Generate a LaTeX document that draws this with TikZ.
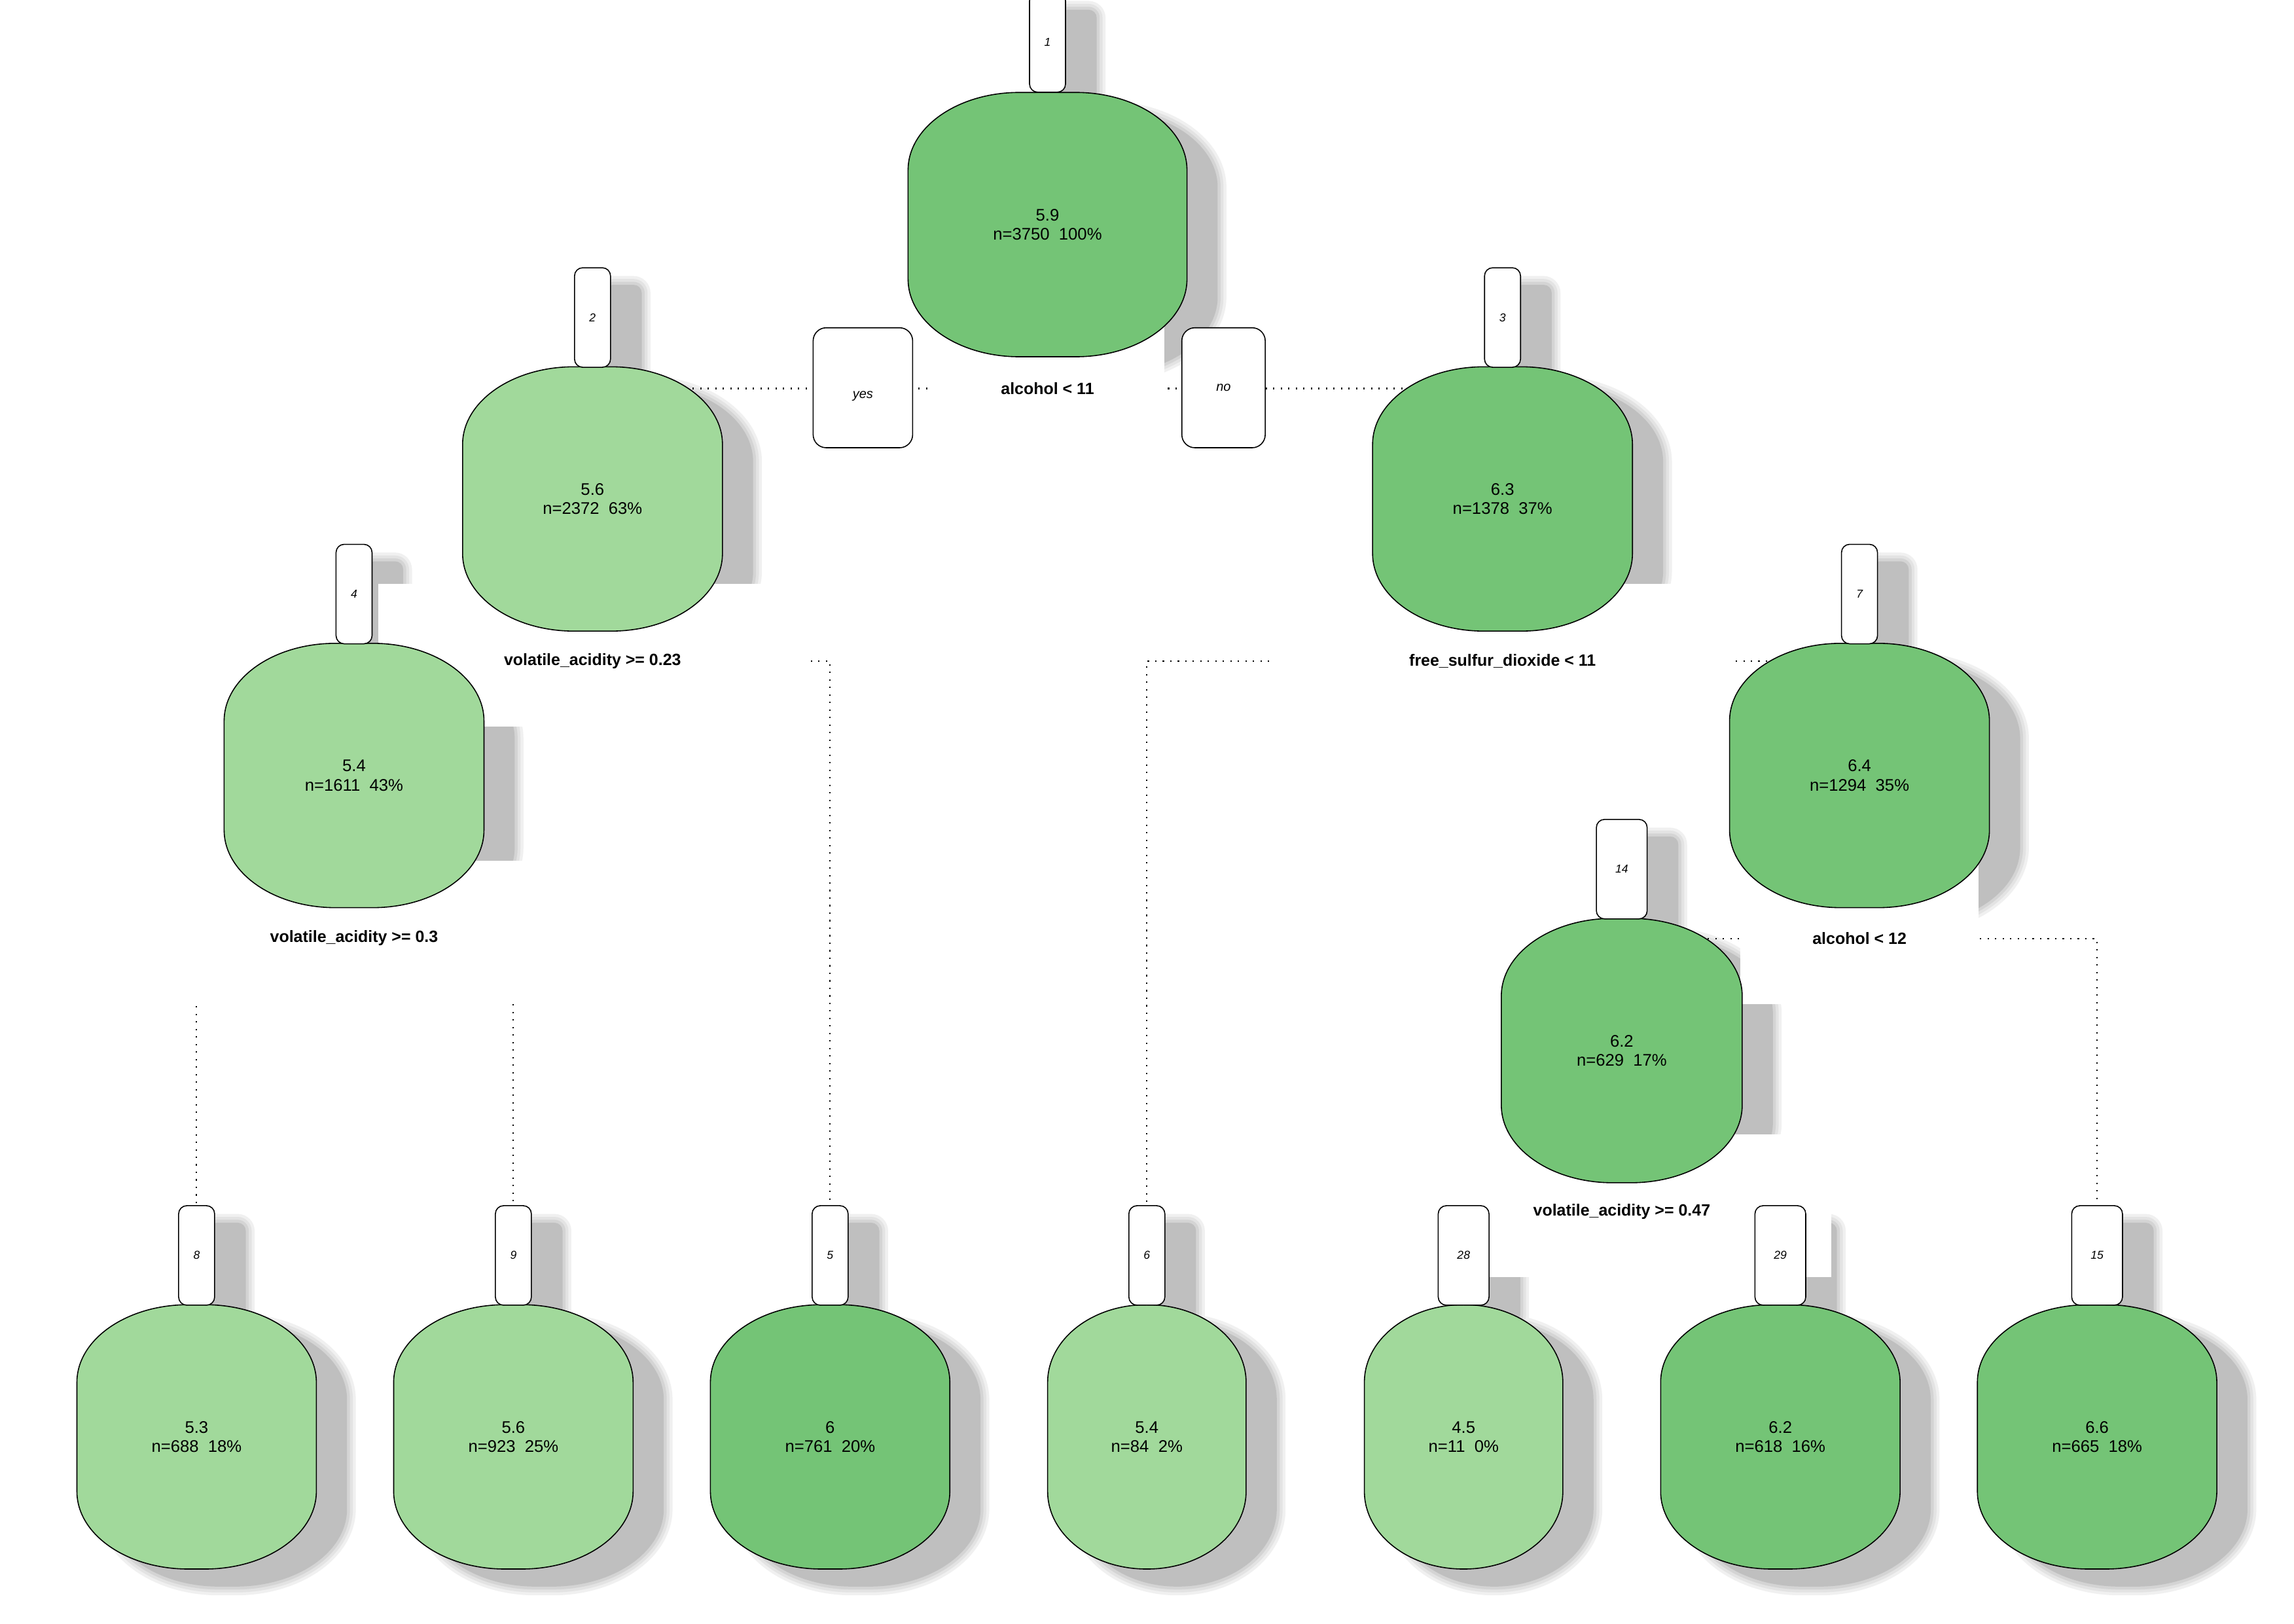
\documentclass[tikz,border=0pt]{standalone}
\usepackage{fontspec}
\setmainfont{Liberation Sans}
\definecolor{greendark}{HTML}{74C476}
\definecolor{greenlight}{HTML}{A1D99B}
\pgfdeclarelayer{paper}
\pgfdeclarelayer{shade}
\pgfdeclarelayer{lines}
\pgfdeclarelayer{cut}
\pgfdeclarelayer{body}
\pgfsetlayers{paper,shade,lines,cut,body,main}
% outline of a box with elliptic corners round node #1 (rx #2, ry #3, grown by #4)
\newcommand{\ovalpath}[4]{([xshift=-#4, yshift=-#3]#1.north west)
  arc[start angle=180, end angle=90, x radius=#2+#4, y radius=#3+#4]
  -- ([xshift=-#2, yshift=#4]#1.north east)
  arc[start angle=90, end angle=0, x radius=#2+#4, y radius=#3+#4]
  -- ([xshift=#4, yshift=#3]#1.south east)
  arc[start angle=0, end angle=-90, x radius=#2+#4, y radius=#3+#4]
  -- ([xshift=#2, yshift=-#4]#1.south west)
  arc[start angle=-90, end angle=-180, x radius=#2+#4, y radius=#3+#4]
  -- cycle}

\begin{document}
\begin{tikzpicture}[
    x=0.22353mm, y=-0.22353mm,
    font=\fontsize{7.3}{8.3}\selectfont
]
\tikzset{
    treenode/.style = {rectangle, minimum height=40.24mm, minimum width=#1, inner sep=0pt, align=center},
    idbox/.style = {rectangle, rounded corners=1.25mm, draw=black, line width=0.45pt, fill=white, minimum width=5.5mm, minimum height=15.2mm, inner sep=0pt, font=\fontsize{5}{6}\selectfont\itshape},
    idwide/.style = {idbox, minimum width=7.76mm},
    splitlab/.style = {minimum height=21.68mm, minimum width=#1, inner sep=0pt, font=\fontsize{7.1}{8.5}\selectfont\bfseries},
    yesno/.style = {rectangle, rounded corners=2mm, draw=black, line width=0.45pt, fill=white, minimum height=18.33mm, minimum width=#1, inner sep=0pt, font=\fontsize{5.7}{6.8}\selectfont\itshape},
    branch/.style = {black, line width=0.6pt, dash pattern=on 0.6pt off 2.67pt}
}
\useasboundingbox (0,0) rectangle (1568,1109.5);

\node[treenode=42.47mm] at (716,153.5) (n1) {5.9\\n=3750\ \ 100\%};
\node[treenode=39.56mm] at (405,341) (n2) {5.6\\n=2372\ \ 63\%};
\node[treenode=39.56mm] at (1027,341) (n3) {6.3\\n=1378\ \ 37\%};
\node[treenode=39.56mm] at (242,530) (n4) {5.4\\n=1611\ \ 43\%};
\node[treenode=39.56mm] at (1271,530) (n7) {6.4\\n=1294\ \ 35\%};
\node[treenode=36.66mm] at (1108.5,718) (n14) {6.2\\n=629\ \ 17\%};
\node[treenode=36.44mm] at (134.4,982) (n8) {5.3\\n=688\ \ 18\%};
\node[treenode=36.44mm] at (350.9,982) (n9) {5.6\\n=923\ \ 25\%};
\node[treenode=36.44mm] at (567.4,982) (n5) {6\\n=761\ \ 20\%};
\node[treenode=30.18mm] at (783.9,982) (n6) {5.4\\n=84\ \ 2\%};
\node[treenode=30.18mm] at (1000.4,982) (n28) {4.5\\n=11\ \ 0\%};
\node[treenode=36.44mm] at (1216.9,982) (n29) {6.2\\n=618\ \ 16\%};
\node[treenode=36.44mm] at (1433.4,982) (n15) {6.6\\n=665\ \ 18\%};

\node[idbox] at (716,29) (i1) {1};
\node[idbox] at (405,217) (i2) {2};
\node[idbox] at (1027,217) (i3) {3};
\node[idbox] at (242,406) (i4) {4};
\node[idbox] at (1271,406) (i7) {7};
\node[idwide] at (1108.5,594) (i14) {14};
\node[idbox] at (134.4,858) (i8) {8};
\node[idbox] at (350.9,858) (i9) {9};
\node[idbox] at (567.4,858) (i5) {5};
\node[idbox] at (783.9,858) (i6) {6};
\node[idwide] at (1000.4,858) (i28) {28};
\node[idwide] at (1216.9,858) (i29) {29};
\node[idwide] at (1433.4,858) (i15) {15};

\node[yesno=15.2mm] at (589.8,265) (yes) {\raisebox{-4.7pt}[0pt][0pt]{yes}};
\node[yesno=12.74mm] at (836.3,265) (no) {no};

\node[splitlab=35.54mm] at (716,265.5) (s1) {alcohol < 11};
\node[splitlab=65.27mm] at (405,451.8) (s2) {volatile\_acidity >= 0.23};
\node[splitlab=70.19mm] at (1027,451.8) (s3) {free\_sulfur\_dioxide < 11};
\node[splitlab=62.14mm] at (242,641) (s4) {volatile\_acidity >= 0.3};
\node[splitlab=36.21mm] at (1271,641.5) (s7) {alcohol < 12};
\node[splitlab=63.93mm] at (1108.5,828) (s14) {volatile\_acidity >= 0.47};

\begin{pgfonlayer}{paper}
\fill[white] (0,0) rectangle (1568,1109.5);
\end{pgfonlayer}

\begin{pgfonlayer}{shade}
\foreach \ex/\gr in {1.34mm/6,0.89mm/11,0.45mm/17,0mm/25}{
  \foreach \nd/\rx/\ry in {n1/17mm/11.85mm,n2/17mm/11.85mm,n3/17mm/11.85mm,n4/17mm/11.85mm,
      n7/17mm/11.85mm,n14/17mm/11.85mm,n8/17mm/11.85mm,n9/17mm/11.85mm,n5/17mm/11.85mm,
      n6/15.09mm/11.85mm,n28/15.09mm/11.85mm,n29/17mm/11.85mm,n15/17mm/11.85mm,
      i1/1.25mm/1.25mm,i2/1.25mm/1.25mm,i3/1.25mm/1.25mm,i4/1.25mm/1.25mm,i7/1.25mm/1.25mm,
      i14/1.25mm/1.25mm,i8/1.25mm/1.25mm,i9/1.25mm/1.25mm,i5/1.25mm/1.25mm,i6/1.25mm/1.25mm,
      i28/1.25mm/1.25mm,i29/1.25mm/1.25mm,i15/1.25mm/1.25mm}{
    \fill[black!\gr, transform canvas={xshift=4.69mm, yshift=-2.68mm}] \ovalpath{\nd}{\rx}{\ry}{\ex};
  }
}
\end{pgfonlayer}

\begin{pgfonlayer}{lines}
\draw[branch] (s1.center) -| (i2.north);
\draw[branch] (s1.center) -| (i3.north);
\draw[branch] (s2.center) -| (i4.north);
\draw[branch] (s2.center) -| (i5.north);
\draw[branch] (s3.center) -| (i6.north);
\draw[branch] (s3.center) -| (i7.north);
\draw[branch] (s4.center) -| (i8.north);
\draw[branch] (s4.center) -| (i9.north);
\draw[branch] (s7.center) -| (i14.north);
\draw[branch] (s7.center) -| (i15.north);
\draw[branch] (s14.center) -| (i28.north);
\draw[branch] (s14.center) -| (i29.north);
\end{pgfonlayer}

\begin{pgfonlayer}{cut}
\foreach \nd in {s1,s2,s3,s4,s7,s14}
  \fill[white] ([shift={(0,-4)}]\nd.south west) rectangle ([shift={(0,-4)}]\nd.north east);
\end{pgfonlayer}

\begin{pgfonlayer}{body}
\foreach \nd/\rx/\col in {n1/17mm/greendark,n2/17mm/greenlight,n3/17mm/greendark,n4/17mm/greenlight,
    n7/17mm/greendark,n14/17mm/greendark,n8/17mm/greenlight,n9/17mm/greenlight,n5/17mm/greendark,
    n6/15.09mm/greenlight,n28/15.09mm/greenlight,n29/17mm/greendark,n15/17mm/greendark}
  \filldraw[fill=\col, draw=black, line width=0.45pt] \ovalpath{\nd}{\rx}{11.85mm}{0mm};
\end{pgfonlayer}
\end{tikzpicture}
\end{document}
